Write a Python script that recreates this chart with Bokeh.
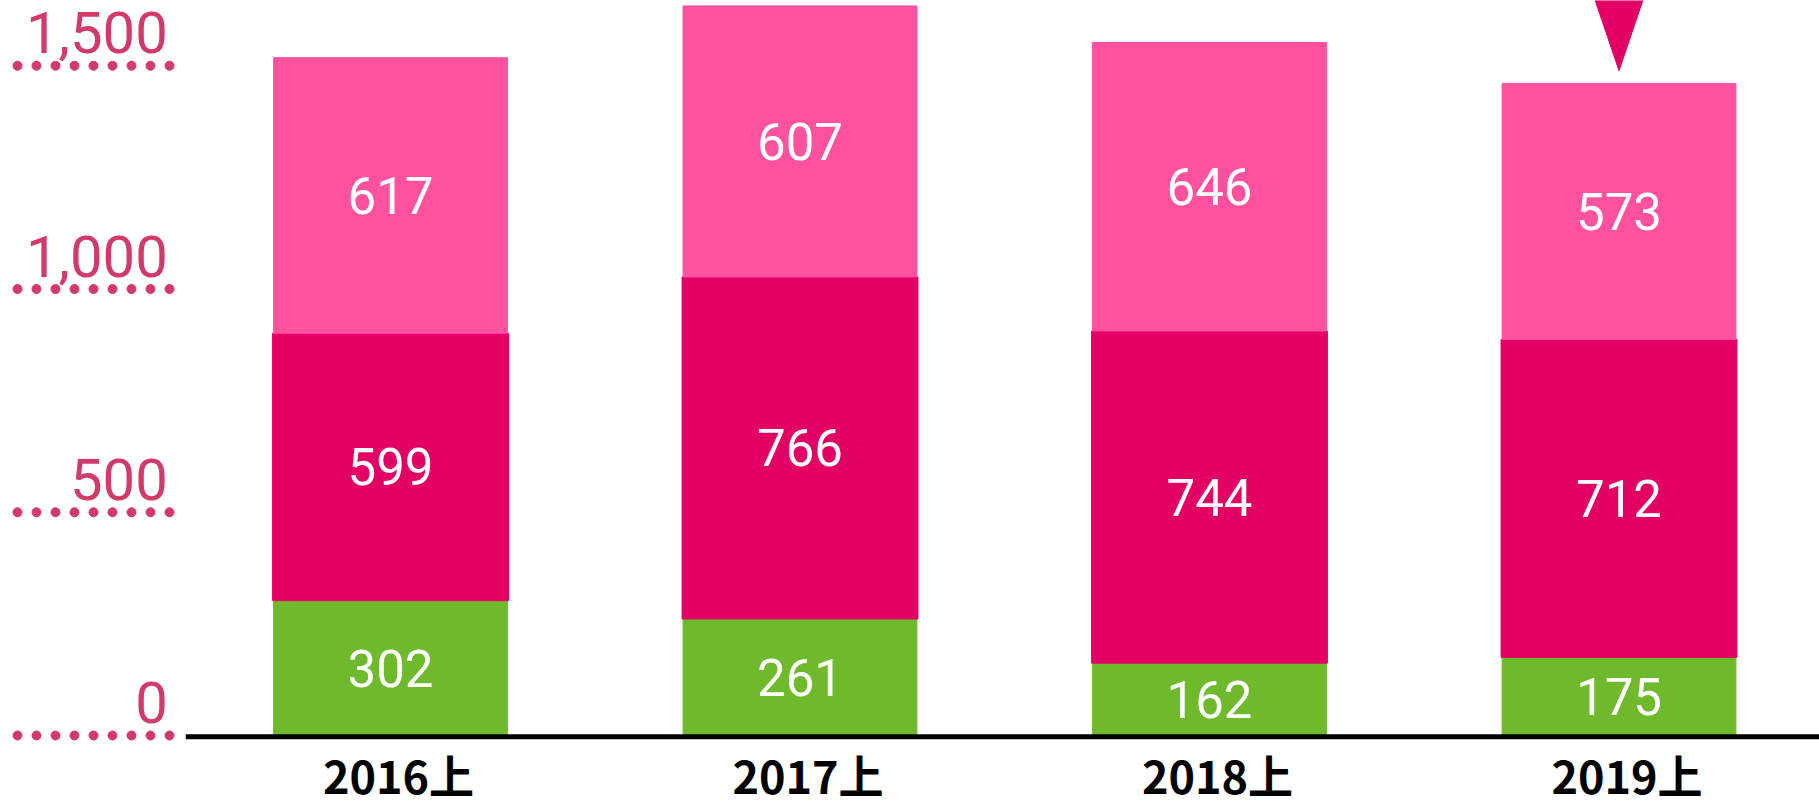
import numpy as np
from bokeh.plotting import figure
from bokeh.models import ColumnDataSource, Range1d
from bokeh.core.properties import value
from bokeh.embed import file_html
from bokeh.resources import INLINE

# ---- data ----
categories = ["2016上", "2017上", "2018上", "2019上"]
green_vals = [302, 261, 162, 175]
magenta_vals = [599, 766, 744, 712]
pink_vals = [617, 607, 646, 573]
y_ticks = [0, 500, 1000, 1500]
y_tick_labels = ["0", "500", "1,000", "1,500"]

# ---- colours ----
C_GREEN = "#6FBA2C"
C_MAG = "#E30065"
C_PINK = "#FF529E"
C_AXIS_LBL = "#D23A6A"

W, H = 1819, 808
x = np.arange(len(categories), dtype=float)
g = np.array(green_vals, dtype=float)
m = np.array(magenta_vals, dtype=float)
pk = np.array(pink_vals, dtype=float)

src = ColumnDataSource(dict(
    x=x, cat=categories,
    g0=np.zeros_like(g), g1=g,
    m0=g, m1=g + m,
    p0=g + m, p1=g + m + pk,
    gy=g / 2, my=g + m / 2, py=g + m + pk / 2,
    gl=[str(v) for v in green_vals],
    ml=[str(v) for v in magenta_vals],
    pl=[str(v) for v in pink_vals],
))

px_per_cat = 409.5
px_per_unit = 0.4465
x0_px = 390.0
y0_px = 735.0
x_start = -x0_px / px_per_cat
x_end = (W - x0_px) / px_per_cat
y_end = y0_px / px_per_unit
y_start = (y0_px - H) / px_per_unit

p = figure(width=W, height=H, output_backend="svg", toolbar_location=None,
           x_range=Range1d(x_start, x_end), y_range=Range1d(y_start, y_end),
           x_axis_type=None, y_axis_type=None, min_border=0)
p.outline_line_color = None
p.xgrid.visible = False
p.ygrid.visible = False
p.background_fill_color = "white"
p.border_fill_color = "white"

bw = 0.571
p.vbar(x="x", bottom="g0", top="g1", width=bw, color=C_GREEN, source=src)
p.vbar(x="x", bottom="m0", top="m1", width=bw + 0.005, color=C_MAG, source=src)
p.vbar(x="x", bottom="p0", top="p1", width=bw, color=C_PINK, source=src)

# value labels
for ycol, tcol in (("gy", "gl"), ("my", "ml"), ("py", "pl")):
    p.text(x="x", y=ycol, text=tcol, source=src, text_align="center",
           text_baseline="middle", text_color="white",
           text_font=value("Roboto"), text_font_size="51px")

# baseline axis line
p.segment(x0=-0.5, y0=-3, x1=x_end + 0.1, y1=-3, line_color="black", line_width=5)

# category labels
p.text(x="x", y=0, text="cat", source=src, text_align="center",
       text_baseline="middle", text_color="black", y_offset=39, x_offset=8,
       text_font=value("Noto Sans CJK JP"), text_font_style="bold",
       text_font_size="45px")

# y tick labels with dotted leaders (9 dots, 19px apart, left of the plot)
n_dots = 9
dot_step = 19.0 / px_per_cat
dot_first = -0.5 - 16.25 / px_per_cat
dx, dy = [], []
for t in y_ticks:
    for k in range(n_dots):
        dx.append(dot_first - k * dot_step)
        dy.append(t)
p.scatter(x=dx, y=dy, size=9, marker="circle", color=C_AXIS_LBL)

tsrc = ColumnDataSource(dict(y=y_ticks, t=y_tick_labels, xa=[-0.5] * len(y_ticks)))
p.text(x="xa", y="y", text="t", source=tsrc, text_align="right",
       text_baseline="middle", text_color=C_AXIS_LBL, x_offset=-18, y_offset=-33,
       text_font=value("Roboto"), text_font_size="58px")

# marker triangle above the latest bar
tx = x[-1]
p.patch(x=[tx - 0.067, tx + 0.067, tx], y=[1670, 1670, 1489], color=C_MAG)

open("out.html", "w").write(file_html(p, INLINE))
